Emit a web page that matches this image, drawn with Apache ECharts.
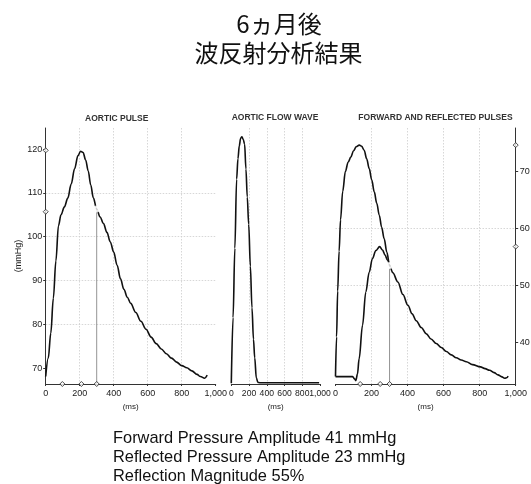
<!DOCTYPE html>
<html>
<head>
<meta charset="utf-8">
<script src="https://cdn.jsdelivr.net/npm/echarts@6/dist/echarts.min.js"></script>
<style>
html,body{margin:0;padding:0;background:#fff;}
#chart{width:531px;height:484px;}
</style>
</head>
<body>
<div id="chart"></div>
<script>
// ---- data ----
const xTickValues = [0, 200, 400, 600, 800, 1000];
const pulseYTicks = [70, 80, 90, 100, 110, 120];
const reflYTicks = [40, 50, 60, 70];

// Aortic pulse (ms, mmHg)
const pulseTime  = [0, 15, 30, 45, 60, 75, 90, 110, 130, 150, 170, 190, 205, 220, 235, 250, 265, 280, 300, 320, 340, 360, 380, 400, 420, 440, 460, 480, 500, 530, 560, 590, 620, 650, 680, 710, 740, 770, 800, 830, 860, 890, 910, 935, 950];
const pulseValue = [68.1, 72.3, 78, 86, 94.5, 102.5, 105, 106.8, 108.8, 112, 115.5, 118.5, 119.5, 119.2, 117.5, 115, 111.8, 108.9, 106.3, 104.5, 103, 101, 98.8, 96.5, 93.5, 90.4, 88, 86.2, 84.8, 82.7, 80.7, 78.9, 77.1, 75.6, 74.4, 73.3, 72.3, 71.4, 70.6, 70.1, 69.4, 68.6, 68.1, 67.7, 68.4];

// Aortic flow wave (ms, relative units)
const flowTime  = [0, 20, 40, 60, 75, 90, 105, 120, 135, 150, 165, 180, 196, 215, 233, 250, 264, 282, 300, 320, 400, 500, 600, 700, 800, 900, 990];
const flowValue = [0.3, 26, 53, 80, 88, 93, 96, 96.6, 95.5, 93.7, 84, 73, 62.4, 46, 29.8, 17.5, 10.2, 2.4, 0.6, 0.5, 0.5, 0.5, 0.5, 0.5, 0.5, 0.5, 0.5];

// Forward pulse (ms, mmHg)
const fwdTime  = [0, 6, 12, 20, 28, 40, 55, 70, 85, 100, 115, 132, 145, 159, 173, 187, 201, 215, 229, 243, 256, 270, 285, 300, 318, 346, 374, 402, 425, 448, 476, 504, 530, 559, 587, 615, 643, 670, 698, 726, 760, 804, 830, 855, 880, 902, 920, 939, 950, 958];
const fwdValue = [34, 41, 49, 56, 61.5, 66.5, 70, 71.6, 72.5, 73.6, 74.3, 74.6, 74.4, 73.7, 72.2, 70.5, 68.5, 66.4, 64.4, 62.3, 60.2, 58.2, 55.8, 53.5, 52.2, 50.6, 48.4, 46.5, 45.0, 43.8, 42.6, 41.5, 40.6, 39.8, 39.1, 38.4, 37.8, 37.3, 36.9, 36.6, 36.1, 35.7, 35.4, 35.1, 34.7, 34.3, 34.0, 33.7, 33.8, 34.1];

// Reflected pulse (ms, mmHg)
const refTime  = [0, 50, 95, 105, 113, 122, 131, 150, 168, 187, 205, 224, 245, 261, 275, 289, 300];
const refValue = [34, 34, 34, 33.6, 33.3, 34.5, 37.1, 43, 48.8, 52.3, 54.7, 56.1, 56.8, 56.2, 55.3, 54.4, 53.5];

// Marker points
const pulseAxisMarksY = [119.7, 105.7];
const pulseAxisMarksX = [98, 210, 300];
const pulseCursor = [300, 106.3];
const reflAxisMarksY = [74.6, 56.8];
const reflAxisMarksX = [137, 248, 300];
const reflCursor = [300, 53.5];

const pulseMin = 66.4, pulseMax = 124.8;
const reflMin = 32.7, reflMax = 77.6;

const titles = ['6ヵ月後', '波反射分析結果'];
const panelTitles = ['AORTIC PULSE', 'AORTIC FLOW WAVE', 'FORWARD AND REFLECTED PULSES'];
const summary = ['Forward Pressure Amplitude 41 mmHg', 'Reflected Pressure Amplitude 23 mmHg', 'Reflection Magnitude 55%'];

// ---- build ----
const zip = (a, b) => a.map((v, i) => [v, b[i]]);
const fmtX = v => v === 1000 ? '1,000' : String(v);
const LAT = '"Liberation Sans", Arial, sans-serif';
const INK = '#1a1a1a';
const gridLine = {show: true, showMinLine: false, showMaxLine: false, lineStyle: {color: '#cdcdcd', type: [1.5, 1.5], width: 0.8}};

function xAxis(gridIndex, labelSize) {
  return {
    type: 'value', gridIndex, min: 0, max: 1000, interval: 200,
    name: '(ms)', nameLocation: 'middle', nameGap: 18,
    nameTextStyle: {fontSize: 8, color: INK, fontFamily: LAT},
    axisLine: {show: true, onZero: false, lineStyle: {color: '#333', width: 1}},
    axisTick: {show: true, length: 2, customValues: xTickValues, lineStyle: {color: '#333'}},
    axisLabel: {fontSize: labelSize || 9, color: INK, fontFamily: LAT, margin: 5, formatter: fmtX,
      customValues: xTickValues, hideOverlap: false, showMinLabel: true, showMaxLabel: true},
    splitLine: gridLine
  };
}

const markerStyle = {color: '#fff', borderColor: '#222', borderWidth: 1};
const lineSeries = (xi, yi, data) => ({
  type: 'line', xAxisIndex: xi, yAxisIndex: yi, data, showSymbol: false, symbol: 'none',
  smooth: 0.35, smoothMonotone: 'x', clip: false,
  lineStyle: {color: '#111', width: 1.6}, z: 5, silent: true
});
const markerSeries = (xi, yi, data, sym) => ({
  type: 'scatter', xAxisIndex: xi, yAxisIndex: yi, data, symbol: sym || 'diamond', symbolSize: 5,
  itemStyle: markerStyle, clip: false, z: 8, silent: true
});
const cursorSeries = (xi, yi, ymin, pt) => ({
  type: 'line', xAxisIndex: xi, yAxisIndex: yi, data: [[pt[0], ymin], pt], showSymbol: false, symbol: 'none',
  lineStyle: {color: '#777', width: 0.8}, z: 4, clip: false, silent: true
});
const txt = (x, y, text, size, extra) => ({
  type: 'text', x, y, silent: true,
  style: Object.assign({text, fontSize: size, fontFamily: LAT, fill: '#111', align: 'center', verticalAlign: 'middle', textAlign: 'center', textVerticalAlign: 'middle'}, extra || {})
});

const option = {
  animation: false,
  backgroundColor: '#fff',
  grid: [
    {left: 45.7, top: 128, width: 170, height: 256, containLabel: false, outerBoundsMode: 'none'},
    {left: 231.3, top: 128, width: 88.7, height: 256, containLabel: false, outerBoundsMode: 'none'},
    {left: 335.5, top: 128, width: 180.2, height: 256, containLabel: false, outerBoundsMode: 'none'}
  ],
  xAxis: [xAxis(0), xAxis(1, 8.6), xAxis(2)],
  yAxis: [
    {
      type: 'value', gridIndex: 0, min: pulseMin, max: pulseMax,
      name: '(mmHg)', nameLocation: 'middle', nameGap: 20, nameRotate: 90,
      nameTextStyle: {fontSize: 9, color: INK, fontFamily: LAT},
      axisLine: {show: true, onZero: false, lineStyle: {color: '#333', width: 1}},
      axisTick: {show: true, length: 2.5, customValues: pulseYTicks, lineStyle: {color: '#333'}},
      axisLabel: {fontSize: 9, color: INK, fontFamily: LAT, margin: 3.5, customValues: pulseYTicks},
      splitLine: gridLine
    },
    {
      type: 'value', gridIndex: 1, min: 0, max: 100, show: false,
      axisLine: {show: false, onZero: false}, splitLine: {show: false}
    },
    {
      type: 'value', gridIndex: 2, min: reflMin, max: reflMax, position: 'right',
      axisLine: {show: true, onZero: false, lineStyle: {color: '#333', width: 1}},
      axisTick: {show: true, length: 2.5, customValues: reflYTicks, lineStyle: {color: '#333'}},
      axisLabel: {fontSize: 9, color: INK, fontFamily: LAT, margin: 4, customValues: reflYTicks},
      splitLine: gridLine
    }
  ],
  series: [
    lineSeries(0, 0, zip(pulseTime, pulseValue)),
    cursorSeries(0, 0, pulseMin, pulseCursor),
    markerSeries(0, 0, pulseAxisMarksY.map(v => [0, v])),
    markerSeries(0, 0, pulseAxisMarksX.map(t => [t, pulseMin])),
    markerSeries(0, 0, [pulseCursor], 'emptyCircle'),
    lineSeries(1, 1, zip(flowTime, flowValue)),
    lineSeries(2, 2, zip(fwdTime, fwdValue)),
    lineSeries(2, 2, zip(refTime, refValue)),
    cursorSeries(2, 2, reflMin, reflCursor),
    markerSeries(2, 2, reflAxisMarksY.map(v => [1000, v])),
    markerSeries(2, 2, reflAxisMarksX.map(t => [t, reflMin])),
    markerSeries(2, 2, [reflCursor], 'emptyCircle')
  ],
  graphic: [
    txt(279, 24, titles[0], 24, {fontFamily: '"Noto Sans CJK JP"', fill: '#111'}),
    txt(278.5, 53, titles[1], 24, {fontFamily: '"Noto Sans CJK JP"', fill: '#111'}),
    txt(116.7, 119, panelTitles[0], 8.5, {fontWeight: 'bold', fill: '#333'}),
    txt(275, 118, panelTitles[1], 8.5, {fontWeight: 'bold', fill: '#333'}),
    txt(435.5, 118, panelTitles[2], 8.5, {fontWeight: 'bold', fill: '#333'}),
    txt(113, 438, summary[0], 16.4, {align: 'left', textAlign: 'left'}),
    txt(113, 457.5, summary[1], 16.4, {align: 'left', textAlign: 'left'}),
    txt(113, 476, summary[2], 16.4, {align: 'left', textAlign: 'left'})
  ]
};

const chart = echarts.init(document.getElementById('chart'), null, {renderer: 'canvas'});
chart.setOption(option);
</script>
</body>
</html>
